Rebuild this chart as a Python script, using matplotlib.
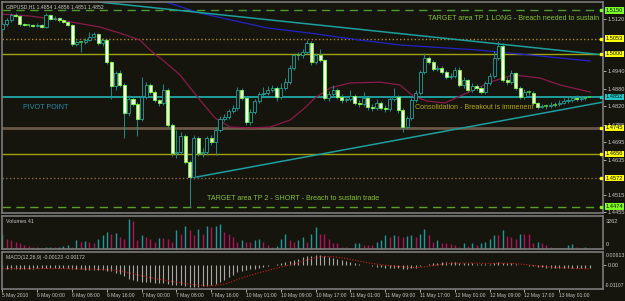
import matplotlib
matplotlib.use("Agg")
import matplotlib.pyplot as plt
from matplotlib.patches import Rectangle
import matplotlib.transforms as mtransforms

plt.rcParams['font.family'] = ['Liberation Sans', 'DejaVu Sans']

# ---------------- data (GBPUSD H1) ----------------
first_open = 1.5086
closes = [1.5103, 1.5117, 1.5134, 1.5131, 1.5103, 1.5100, 1.5100, 1.5097, 1.5100, 1.5093,
          1.5134, 1.5121, 1.5124, 1.5117, 1.5110, 1.5100, 1.5034, 1.5041, 1.5040, 1.5048,
          1.5059, 1.5069, 1.5038, 1.5048, 1.4972, 1.4890, 1.4934, 1.4893, 1.4796, 1.4845,
          1.4828, 1.4776, 1.4852, 1.4893, 1.4869, 1.4841, 1.4831, 1.4876, 1.4755, 1.4658,
          1.4662, 1.4717, 1.4627, 1.4576, 1.4710, 1.4658, 1.4662, 1.4710, 1.4696, 1.4738,
          1.4776, 1.4783, 1.4803, 1.4814, 1.4876, 1.4848, 1.4765, 1.4800, 1.4838, 1.4862,
          1.4865, 1.4876, 1.4883, 1.4852, 1.4883, 1.4903, 1.4952, 1.4997, 1.4995, 1.5007,
          1.5038, 1.4972, 1.4997, 1.4979, 1.4848, 1.4862, 1.4876, 1.4852, 1.4841, 1.4845,
          1.4855, 1.4831, 1.4828, 1.4848, 1.4817, 1.4814, 1.4831, 1.4814, 1.4810, 1.4845,
          1.4852, 1.4807, 1.4748, 1.4779, 1.4841, 1.4865, 1.4938, 1.4986, 1.4972, 1.4948,
          1.4952, 1.4938, 1.4921, 1.4924, 1.4945, 1.4893, 1.4910, 1.4876, 1.4890, 1.4883,
          1.4869, 1.4900, 1.4924, 1.4986, 1.5028, 1.4910, 1.4903, 1.4934, 1.4883, 1.4852,
          1.4869, 1.4867, 1.4831, 1.4817, 1.4821, 1.4819, 1.4824, 1.4826, 1.4831, 1.4838,
          1.4841, 1.4848, 1.4845, 1.4848, 1.4850, 1.4852]
highs = [1.5110, 1.5124, 1.5141, 1.5140, 1.5136, 1.5108, 1.5105, 1.5104, 1.5106, 1.5103,
         1.5141, 1.5139, 1.5131, 1.5129, 1.5121, 1.5114, 1.5104, 1.5048, 1.5046, 1.5055,
         1.5076, 1.5076, 1.5074, 1.5055, 1.5052, 1.4976, 1.4941, 1.4945, 1.4900, 1.4859,
         1.4852, 1.4834, 1.4921, 1.4903, 1.4900, 1.4876, 1.4845, 1.4897, 1.4883, 1.4762,
         1.4738, 1.4731, 1.4724, 1.4634, 1.4721, 1.4717, 1.4676, 1.4717, 1.4721, 1.4748,
         1.4786, 1.4793, 1.4810, 1.4824, 1.4886, 1.4883, 1.4852, 1.4810, 1.4845, 1.4869,
         1.4886, 1.4890, 1.4893, 1.4890, 1.4900, 1.4917, 1.4962, 1.5003, 1.5007, 1.5017,
         1.5048, 1.5045, 1.5003, 1.5017, 1.4983, 1.4872, 1.4893, 1.4883, 1.4862, 1.4855,
         1.4876, 1.4862, 1.4841, 1.4869, 1.4852, 1.4828, 1.4845, 1.4838, 1.4824, 1.4855,
         1.4883, 1.4859, 1.4814, 1.4786, 1.4848, 1.4876, 1.4945, 1.5003, 1.4993, 1.4979,
         1.4962, 1.4959, 1.4945, 1.4934, 1.4955, 1.4955, 1.4921, 1.4914, 1.4900, 1.4897,
         1.4890, 1.4907, 1.4934, 1.5010, 1.5045, 1.5038, 1.4921, 1.4945, 1.4938, 1.4890,
         1.4879, 1.4876, 1.4872, 1.4834, 1.4828, 1.4828, 1.4834, 1.4834, 1.4841, 1.4848,
         1.4852, 1.4855, 1.4859, 1.4855, 1.4856, 1.4856]
lows = [1.5079, 1.5098, 1.5112, 1.5126, 1.5097, 1.5095, 1.5094, 1.5093, 1.5092, 1.5088,
        1.5090, 1.5117, 1.5116, 1.5112, 1.5106, 1.5095, 1.5028, 1.5027, 1.5007, 1.5035,
        1.5044, 1.5055, 1.5031, 1.5027, 1.4965, 1.4845, 1.4876, 1.4886, 1.4710, 1.4786,
        1.4821, 1.4717, 1.4769, 1.4845, 1.4862, 1.4834, 1.4821, 1.4824, 1.4748, 1.4648,
        1.4641, 1.4655, 1.4620, 1.4472, 1.4569, 1.4648, 1.4645, 1.4652, 1.4686, 1.4652,
        1.4731, 1.4769, 1.4776, 1.4796, 1.4807, 1.4841, 1.4755, 1.4755, 1.4793, 1.4831,
        1.4855, 1.4859, 1.4869, 1.4838, 1.4845, 1.4876, 1.4897, 1.4945, 1.4979, 1.4986,
        1.5000, 1.4962, 1.4965, 1.4972, 1.4841, 1.4838, 1.4855, 1.4845, 1.4831, 1.4834,
        1.4838, 1.4824, 1.4817, 1.4821, 1.4807, 1.4803, 1.4807, 1.4807, 1.4800, 1.4803,
        1.4838, 1.4796, 1.4731, 1.4741, 1.4772, 1.4834, 1.4859, 1.4931, 1.4965, 1.4941,
        1.4941, 1.4931, 1.4914, 1.4914, 1.4917, 1.4886, 1.4883, 1.4869, 1.4869, 1.4876,
        1.4862, 1.4862, 1.4893, 1.4917, 1.4979, 1.4903, 1.4893, 1.4897, 1.4876, 1.4845,
        1.4845, 1.4859, 1.4824, 1.4810, 1.4814, 1.4812, 1.4814, 1.4817, 1.4821, 1.4828,
        1.4831, 1.4834, 1.4838, 1.4838, 1.4843, 1.4851]

volumes = [1580, 1080, 910, 740, 570, 400, 300, 235, 170, 135,
           170, 235, 170, 235, 300, 400, 235, 910, 740, 840,
           740, 570, 1080, 1410, 1750, 1580, 1680, 1250, 1080, 3100,
           2860, 910, 1410, 1250, 1080, 740, 1180, 1180, 980, 740,
           1990, 1580, 2420, 1990, 1410, 2090, 1580, 2420, 2260, 2420,
           2590, 1750, 1580, 1250, 740, 910, 740, 740, 910, 1080,
           740, 400, 235, 300, 1080, 1580, 910, 740, 910, 1250,
           740, 1580, 2260, 1580, 1580, 1080, 570, 570, 235, 235,
           70, 570, 640, 400, 400, 400, 740, 910, 1410, 1250,
           1410, 1310, 1250, 1310, 1410, 1250, 1580, 2090, 1410, 740,
           910, 640, 570, 500, 400, 235, 570, 340, 640, 400,
           570, 740, 1080, 1410, 1410, 1990, 1310, 1250, 980, 1580,
           1510, 1510, 570, 740, 570, 400, 235, 70, 70, 70,
           400, 500, 235, 70, 235, 10]

macd_main = [-0.0015, -0.0016, -0.0016, -0.0017, -0.0017, -0.0017, -0.0016, -0.0016, -0.0015, -0.0015,
             -0.0014, -0.0013, -0.0013, -0.0013, -0.0013, -0.0014, -0.0017, -0.0019, -0.0020, -0.0021,
             -0.0021, -0.0021, -0.0022, -0.0022, -0.0026, -0.0029, -0.0037, -0.0040, -0.0052, -0.0065,
             -0.0071, -0.0076, -0.0077, -0.0077, -0.0080, -0.0083, -0.0083, -0.0083, -0.0088, -0.0093,
             -0.0094, -0.0094, -0.0097, -0.0101, -0.0102, -0.0102, -0.0099, -0.0096, -0.0094, -0.0086,
             -0.0077, -0.0068, -0.0055, -0.0044, -0.0033, -0.0027, -0.0024, -0.0020, -0.0016, -0.0011,
             -0.0008, -0.0002, 0.0003, 0.0006, 0.0010, 0.0014, 0.0020, 0.0026, 0.0031, 0.0036,
             0.0042, 0.0045, 0.0046, 0.0046, 0.0043, 0.0040, 0.0035, 0.0030, 0.0025, 0.0020,
             0.0016, 0.0011, 0.0007, 0.0003, -0.0001, -0.0004, -0.0007, -0.0009, -0.0011, -0.0011,
             -0.0012, -0.0013, -0.0016, -0.0017, -0.0015, -0.0012, -0.0006, 0.0002, 0.0007, 0.0010,
             0.0012, 0.0013, 0.0013, 0.0013, 0.0014, 0.0012, 0.0011, 0.0009, 0.0008, 0.0007,
             0.0005, 0.0005, 0.0006, 0.0010, 0.0015, 0.0012, 0.0009, 0.0008, 0.0005, 0.0001,
             -0.0001, -0.0002, -0.0005, -0.0008, -0.0010, -0.0011, -0.0012, -0.0013, -0.0013, -0.0013,
             -0.0013, -0.0013, -0.0012, -0.0012, -0.0012, -0.0012]
macd_signal = [-0.0016, -0.0016, -0.0016, -0.0016, -0.0016, -0.0016, -0.0016, -0.0016, -0.0016, -0.0016,
               -0.0016, -0.0016, -0.0016, -0.0016, -0.0016, -0.0016, -0.0017, -0.0017, -0.0018, -0.0018,
               -0.0019, -0.0019, -0.0020, -0.0020, -0.0021, -0.0022, -0.0024, -0.0027, -0.0030, -0.0035,
               -0.0040, -0.0045, -0.0050, -0.0054, -0.0058, -0.0062, -0.0066, -0.0069, -0.0072, -0.0076,
               -0.0079, -0.0082, -0.0085, -0.0088, -0.0091, -0.0093, -0.0095, -0.0096, -0.0096, -0.0095,
               -0.0092, -0.0088, -0.0082, -0.0075, -0.0067, -0.0060, -0.0053, -0.0047, -0.0041, -0.0035,
               -0.0030, -0.0025, -0.0019, -0.0014, -0.0009, -0.0004, 0.0001, 0.0006, 0.0012, 0.0018,
               0.0024, 0.0030, 0.0035, 0.0038, 0.0040, 0.0040, 0.0039, 0.0037, 0.0034, 0.0031,
               0.0027, 0.0023, 0.0019, 0.0015, 0.0011, 0.0008, 0.0005, 0.0002, 0.0000, -0.0002,
               -0.0004, -0.0006, -0.0008, -0.0010, -0.0011, -0.0011, -0.0010, -0.0008, -0.0005, -0.0002,
               0.0001, 0.0004, 0.0006, 0.0008, 0.0009, 0.0010, 0.0010, 0.0010, 0.0010, 0.0009,
               0.0009, 0.0008, 0.0008, 0.0008, 0.0009, 0.0009, 0.0009, 0.0008, 0.0007, 0.0005,
               0.0003, 0.0001, -0.0001, -0.0003, -0.0005, -0.0007, -0.0009, -0.0011, -0.0012, -0.0013,
               -0.0014, -0.0015, -0.0016, -0.0016, -0.0017, -0.0017]

# moving averages drawn on the chart (bar index, price)
ma_red_bars = [-0.6, 6.3, 13.2, 22.4, 27.0, 31.6, 33.9, 37.4, 40.8, 45.4, 48.9, 52.3, 56.9, 61.5,
               66.1, 69.5, 71.8, 75.3, 79.9, 86.8, 91.4, 94.4, 97.6, 101.7, 106.8, 112.1, 117.4,
               123.6, 128.2, 135.1]
ma_red_prices = [1.5138, 1.5131, 1.5117, 1.5093, 1.5072, 1.5048, 1.5014, 1.4972, 1.4928, 1.4841,
                 1.4779, 1.4748, 1.4745, 1.4748, 1.4772, 1.4814, 1.4848, 1.4883, 1.4900, 1.4903,
                 1.4893, 1.4855, 1.4838, 1.4831, 1.4866, 1.4903, 1.4928, 1.4917, 1.4893, 1.4869]
ma_blue_bars = [36.2, 45.4, 60.8, 70.7, 82.2, 91.4, 109.1, 123.6, 135.1]
ma_blue_prices = [1.5186, 1.5141, 1.5090, 1.5072, 1.5048, 1.5031, 1.5014, 1.4993, 1.4976]

# trend lines (two anchors each)
trend_down = [(22.4, 1.5179), (138.0, 1.4997)]
trend_up = [(44.7, 1.4576), (138.0, 1.4834)]

# horizontal levels
level_prices = [1.5150, 1.5053, 1.5000, 1.4852, 1.4745, 1.4656, 1.4572, 1.4474]
level_colors = ['#4f9a2c', '#b08a2a', '#a0a010', '#1f9ea0', '#6a5846', '#a0a010', '#8a6a50', '#5aa02a']
level_styles = [(0, (6, 4)), ':', '-', '-', '-', '-', ':', (0, (6, 4))]
level_widths = [1.0, 1.0, 1.0, 1.4, 2.0, 1.0, 1.0, 1.0]
level_label_bg = ['#7cff20', '#ffff00', '#ffff00', '#20c8c8', '#ffff00', '#ffff00', '#ffff00', '#7cff20']

price_ticks = [1.5120, 1.4940, 1.4880, 1.4820, 1.4755, 1.4695, 1.4635, 1.4515, 1.4455]

date_bars = [0, 8, 16, 24, 32, 40, 48, 56, 64, 72, 80, 88, 96, 104, 112, 120, 128]
date_labels = ["5 May 2010", "6 May 00:00", "6 May 08:00", "6 May 16:00", "7 May 00:00",
               "7 May 08:00", "7 May 16:00", "10 May 01:00", "10 May 09:00", "10 May 17:00",
               "11 May 01:00", "11 May 09:00", "11 May 17:00", "12 May 01:00", "12 May 09:00",
               "12 May 17:00", "13 May 01:00"]

# ---------------- styling ----------------
bg = '#15150d'
frame = '#7a7a7a'
txt = '#c8c8c8'
fs = 4.1

W, H = 625, 301
fig = plt.figure(figsize=(W / 100, H / 100), dpi=100, facecolor=bg)


def px_axes(x0, y0, x1, y1):
    a = fig.add_axes([x0 / W, 1 - y1 / H, (x1 - x0) / W, (y1 - y0) / H])
    a.set_facecolor(bg)
    for s in a.spines.values():
        s.set_color(frame)
        s.set_linewidth(1.2)
    a.set_xlim(-0.11, 138.05)
    a.tick_params(axis='x', bottom=False, labelbottom=False)
    a.yaxis.tick_right()
    a.tick_params(axis='y', colors=txt, labelsize=fs, length=2, width=0.6, pad=1.5)
    return a


ax = px_axes(2, 2, 603, 213)
axv = px_axes(2, 216, 603, 249)
axm = px_axes(2, 252, 603, 289)

# ---------------- main panel ----------------
ax.set_ylim(1.44517, 1.51793)
ax.set_yticks(price_ticks)
ax.set_yticklabels([f"{p:.4f}" for p in price_ticks])

for p, c, ls, lw in zip(level_prices, level_colors, level_styles, level_widths):
    ax.axhline(p, color=c, linestyle=ls, linewidth=lw, zorder=1)

ax.plot(ma_red_bars, ma_red_prices, color='#8c1a4c', lw=0.9, zorder=2)
ax.plot(ma_blue_bars, ma_blue_prices, color='#2222c8', lw=0.9, zorder=2)
for (x0, y0), (x1, y1) in (trend_down, trend_up):
    ax.plot([x0, x1], [y0, y1], color='#1e9e9e', lw=1.1, zorder=2)

opens = [first_open] + closes[:-1]
for i, (o, h, l, c) in enumerate(zip(opens, highs, lows, closes)):
    ax.vlines(i, l, h, color='#1f8c8c', lw=0.7, zorder=3)
    if abs(c - o) < 0.00025:
        ax.hlines((o + c) / 2, i - 0.4, i + 0.4, color='#3ccc3c', lw=1.2, zorder=4)
    elif c > o:
        ax.add_patch(Rectangle((i - 0.35, o), 0.7, c - o, facecolor=bg,
                               edgecolor='#22a0a0', lw=0.6, zorder=4))
    else:
        ax.add_patch(Rectangle((i - 0.35, c), 0.7, o - c, facecolor='#f4fff0',
                               edgecolor='#7cff30', lw=0.6, zorder=4))

trans = mtransforms.blended_transform_factory(ax.transAxes, ax.transData)
for p, bgc in zip(level_prices, level_label_bg):
    ax.text(1.005, p, f"{p:.4f}", transform=trans, fontsize=fs, color='#101010',
            va='center', ha='left', clip_on=False, zorder=7,
            bbox=dict(boxstyle='square,pad=0.12', fc=bgc, ec='none'))
    ax.plot([0.997], [p], marker='s', ms=1.8, color=bgc, transform=trans, clip_on=False, zorder=6)

ax.text(0.006, 0.975, "GBPUSD,H1 1.4854 1.4856 1.4851 1.4852", transform=ax.transAxes,
        fontsize=3.7, color=txt, va='center', ha='left')
ax.text(97.8, 1.5124, "TARGET area TP 1 LONG - Breach needed to sustain", fontsize=5.1,
        color='#86c232', va='center', ha='left')
ax.text(4.7, 1.4817, "PIVOT POINT", fontsize=5.1, color='#2a8ca8', va='center', ha='left')
ax.text(94.8, 1.4814, "Consolidation - Breakout is immenent", fontsize=5.1,
        color='#b8a400', va='center', ha='left', zorder=5)
ax.text(47.0, 1.4500, "TARGET area TP 2 - SHORT - Breach to sustain trade", fontsize=5.1,
        color='#86c232', va='center', ha='left')

# ---------------- volume panel ----------------
axv.set_ylim(0, 3400)
axv.set_yticks([])
axv.text(1.005, 0.92, "3262", transform=axv.transAxes, fontsize=fs, color=txt, va='top', ha='left')
axv.text(1.005, 0.05, "0", transform=axv.transAxes, fontsize=fs, color=txt, va='bottom', ha='left')
vol_colors = ['#1f9a9a'] + ['#1f9a9a' if volumes[k] > volumes[k - 1] else '#b0125c'
                            for k in range(1, len(volumes))]
axv.vlines(range(len(volumes)), 0, volumes, colors=vol_colors, lw=1.0)
axv.text(0.006, 0.82, "Volumes 41", transform=axv.transAxes, fontsize=3.8, color=txt,
         va='center', ha='left')

# ---------------- MACD panel ----------------
axm.set_ylim(-0.0111, 0.00613)
axm.set_yticks([0.0])
axm.set_yticklabels(["0.00"])
axm.text(1.005, 0.97, "0.00613", transform=axm.transAxes, fontsize=3.8, color=txt, va='top', ha='left')
axm.text(1.003, 0.03, "-0.01107", transform=axm.transAxes, fontsize=3.6, color=txt, va='bottom', ha='left')
axm.vlines(range(len(macd_main)), 0, macd_main, colors='#a8a8a8', lw=0.8)
axm.plot(range(len(macd_signal)), macd_signal, color='#d02020', lw=0.8, linestyle=(0, (1, 1.5)))
axm.text(0.006, 0.86, "MACD(12,26,9) -0.00123 -0.00172", transform=axm.transAxes,
         fontsize=3.7, color=txt, va='center', ha='left')

axm.set_xticks(date_bars)
axm.set_xticklabels(date_labels)
axm.tick_params(axis='x', bottom=True, labelbottom=True, colors=txt, labelsize=3.6,
                length=2, width=0.6, pad=1)
for lab in axm.get_xticklabels():
    lab.set_horizontalalignment('left')

fig.savefig("out.png", dpi=100, facecolor=bg)
